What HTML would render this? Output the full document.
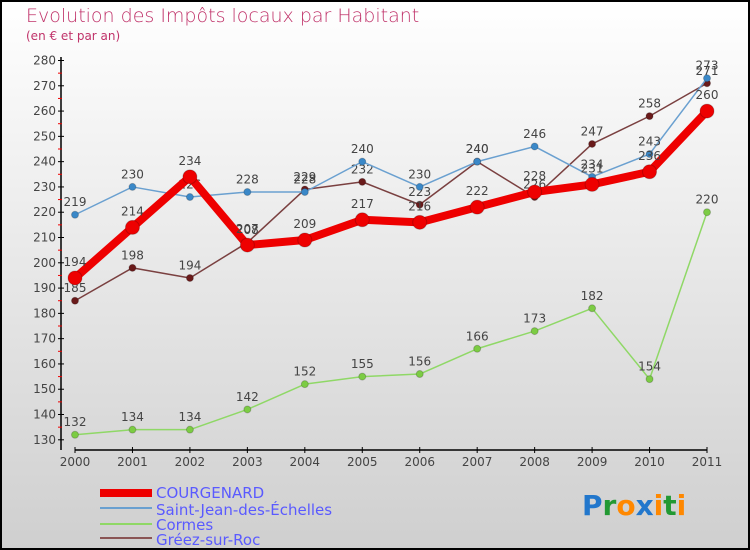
<!DOCTYPE html>
<html><head><meta charset="utf-8"><style>
body{margin:0}
svg{display:block;font-family:"DejaVu Sans","Liberation Sans",sans-serif}
</style></head><body>
<svg id="chart" width="750" height="550" viewBox="0 0 750 550">
<defs><linearGradient id="bg" x1="0" y1="0" x2="0" y2="1"><stop offset="0" stop-color="#ffffff"/><stop offset="1" stop-color="#cfcfcf"/></linearGradient></defs>
<rect x="1" y="1" width="748" height="548" fill="url(#bg)" stroke="#000" stroke-width="2"/>
<text x="26" y="22" font-size="19" fill="#c0336a" font-weight="300">Evolution des Impôts locaux par Habitant</text>
<text x="26" y="40" font-size="12" fill="#c0336a">(en € et par an)</text>
<g id="axes"></g><g id="series"></g>
<g font-size="15" fill="#5a5aff">
<rect x="100" y="489" width="52" height="8" fill="#e00"/>
<text x="156" y="498">COURGENARD</text>
<rect x="100" y="507" width="52" height="2" fill="#6aa0d0"/>
<text x="156" y="515">Saint-Jean-des-Échelles</text>
<rect x="100" y="523" width="52" height="2" fill="#8fd866"/>
<text x="156" y="530">Cormes</text>
<rect x="100" y="537" width="52" height="2" fill="#8a5555"/>
<text x="156" y="545">Gréez-sur-Roc</text>
</g>
<g font-size="28" font-family="'DejaVu Sans',sans-serif" font-weight="bold">
<text x="582" y="515"><tspan fill="#2277cc">P</tspan><tspan fill="#229933">r</tspan><tspan fill="#ff8800">o</tspan><tspan fill="#2277cc">x</tspan><tspan fill="#ff8800">i</tspan><tspan fill="#229933">t</tspan><tspan fill="#ff8800">i</tspan></text>
</g>
</svg>
<script>
const years=['2000','2001','2002','2003','2004','2005','2006','2007','2008','2009','2010','2011'];
const yTicks=[130,140,150,160,170,180,190,200,210,220,230,240,250,260,270,280];
const courgenard=[194,214,234,207,209,217,216,222,228,231,236,260];
const saintJean=[219,230,226,228,228,240,230,240,246,234,243,273];
const cormes=[132,134,134,142,152,155,156,166,173,182,154,220];
const greez=[185,198,194,208,229,232,223,240,226,247,258,271];
const NS='http://www.w3.org/2000/svg';
const x=i=>75+i*(707-75)/11;
const y=v=>439.8-(v-130)*(439.8-60.5)/150;
function mk(t,a,p){const e=document.createElementNS(NS,t);for(const k in a)e.setAttribute(k,a[k]);p.appendChild(e);return e;}
const ax=document.getElementById('axes');
let e=mk('line',{x1:61,y1:57,x2:61,y2:450,stroke:'#000','stroke-width':1.5},ax);


e=mk('line',{x1:75,y1:450,x2:707,y2:450,stroke:'#000','stroke-width':1.5},ax);


yTicks.forEach(v=>{
 mk('line',{x1:58,y1:y(v),x2:64,y2:y(v),stroke:'#000'},ax);
 if(v<280)mk('line',{x1:58,y1:y(v+5),x2:62,y2:y(v+5),stroke:'#e00'},ax);
 const t=mk('text',{x:56,y:y(v)+4,'text-anchor':'end','font-size':12,fill:'#444'},ax);t.textContent=v;
 
 
});
years.forEach((yr,i)=>{
 mk('line',{x1:x(i),y1:447,x2:x(i),y2:453,stroke:'#000'},ax);
 const t=mk('text',{x:x(i),y:466,'text-anchor':'middle','font-size':12,fill:'#444'},ax);t.textContent=yr;
 
 
});
const sg=document.getElementById('series');
function series(name,data,color,w,r,dot){
 const g=mk('g',{},sg);
 
 
 const p=mk('polyline',{points:data.map((v,i)=>x(i)+','+y(v)).join(' '),fill:'none',stroke:color,'stroke-width':w,'stroke-linejoin':'round'},g);
 
 
 data.forEach((v,i)=>{
  const c=mk('circle',{cx:x(i),cy:y(v),r:r,fill:dot,stroke:'rgba(0,0,0,0.2)'},g);
  
  
  const t=mk('text',{x:x(i),y:y(v)-r-5,'text-anchor':'middle','font-size':12,fill:'#444'},g);t.textContent=v;
  
  
 });
}
series('cormes',cormes,'#8fd866',1.5,3.5,'#7ccc44');
series('greez',greez,'#7a4040',1.5,3.5,'#6a1a1a');
series('saint-jean',saintJean,'#6aa0d0',1.5,3.5,'#3a88c8');
series('courgenard',courgenard,'#ee0000',8,7,'#ee0000');
</script>
</body></html>
